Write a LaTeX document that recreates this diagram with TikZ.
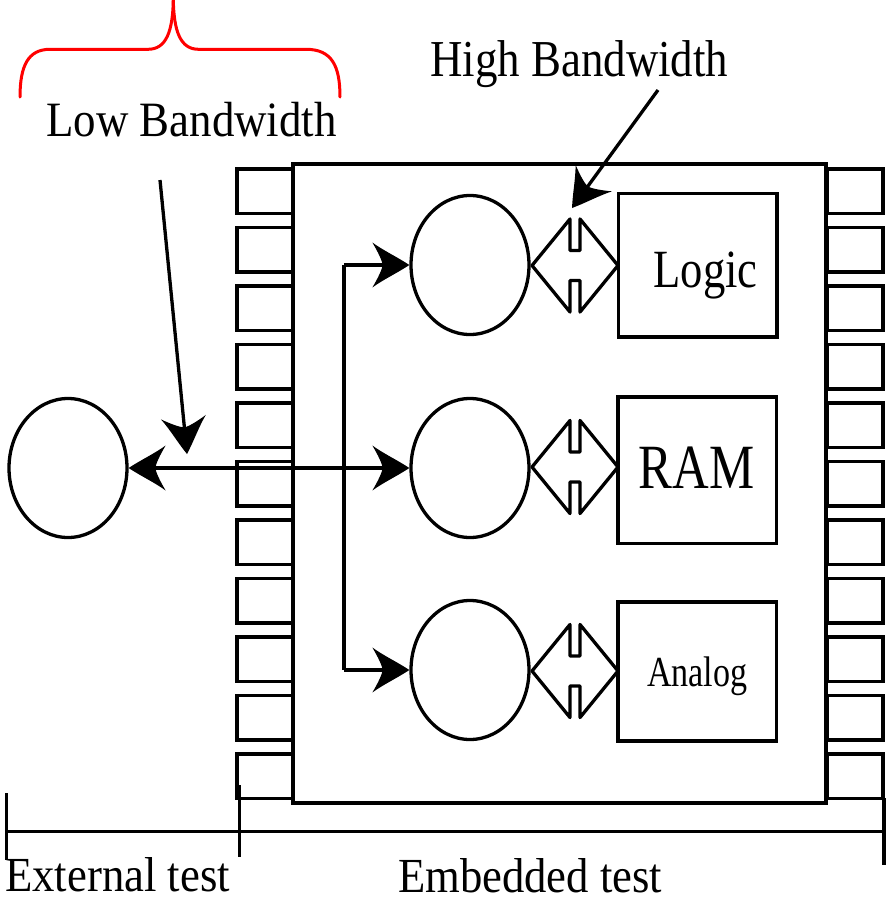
\documentclass[tikz,border=0pt]{standalone}
\usepackage{fontspec}
\setmainfont{Liberation Serif}
\usepackage{graphicx}
\usetikzlibrary{arrows.meta,shapes.geometric}
\pgfdeclarearrow{
  name = Flare,
  defaults = {length = 37pt, width = 45pt},
  parameters = {\the\pgfarrowlength,\the\pgfarrowwidth},
  setup code = {
    \pgfarrowssettipend{0pt}
    \pgfarrowssetlineend{-0.6\pgfarrowlength}
    \pgfarrowssetbackend{-\pgfarrowlength}
    \pgfarrowshullpoint{0pt}{0pt}
    \pgfarrowsupperhullpoint{-\pgfarrowlength}{0.5\pgfarrowwidth}
    \pgfarrowssavethe\pgfarrowlength
    \pgfarrowssavethe\pgfarrowwidth
  },
  drawing code = {
    \pgfpathmoveto{\pgfqpoint{0pt}{0pt}}
    \pgfpathcurveto{\pgfpoint{-0.33\pgfarrowlength}{0.18\pgfarrowwidth}}{\pgfpoint{-0.7\pgfarrowlength}{0.32\pgfarrowwidth}}{\pgfpoint{-\pgfarrowlength}{0.5\pgfarrowwidth}}
    \pgfpathcurveto{\pgfpoint{-0.84\pgfarrowlength}{0.28\pgfarrowwidth}}{\pgfpoint{-0.74\pgfarrowlength}{0.1\pgfarrowwidth}}{\pgfpoint{-0.72\pgfarrowlength}{0pt}}
    \pgfpathcurveto{\pgfpoint{-0.74\pgfarrowlength}{-0.1\pgfarrowwidth}}{\pgfpoint{-0.84\pgfarrowlength}{-0.28\pgfarrowwidth}}{\pgfpoint{-\pgfarrowlength}{-0.5\pgfarrowwidth}}
    \pgfpathcurveto{\pgfpoint{-0.7\pgfarrowlength}{-0.32\pgfarrowwidth}}{\pgfpoint{-0.33\pgfarrowlength}{-0.18\pgfarrowwidth}}{\pgfpoint{0pt}{0pt}}
    \pgfpathclose
    \pgfusepathqfill
  }
}
\newcommand{\sqz}[3]{\scalebox{#1}[1]{\fontsize{#2pt}{#2pt}\selectfont #3}}
\begin{document}
\begin{tikzpicture}[x=1pt,y=-1pt,
  lw/.style={line width=3.3pt, line join=round},
  pinbox/.style={draw, line width=3.8pt, minimum width=55.7pt, minimum height=44.5pt, inner sep=0pt},
  chipbox/.style={draw, line width=4pt, minimum width=533pt, minimum height=639pt, inner sep=0pt},
  blk/.style={draw, line width=3.6pt, minimum width=158.4pt, inner sep=0pt},
  ell/.style={draw, ellipse, line width=3.3pt, minimum width=118pt, minimum height=139pt, inner sep=0pt},
  txt/.style={anchor=base west, inner sep=0pt},
  brace/.style={draw=red, line width=3pt, line cap=round},
  dbl/.pic={\draw[lw] (-43,0) -- (-5,-46.5) -- (-5,-15) -- (5,-15) -- (5,-46.5) -- (43,0) -- (5,46.5) -- (5,15) -- (-5,15) -- (-5,46.5) -- cycle;}
]
\useasboundingbox (0,0) rectangle (892,903);

% pins
\foreach \i in {0,...,10} {
  \pgfmathsetmacro\yy{169+58.5*\i+22.25}
  \node[pinbox] (pl\i) at (265.15,\yy) {};
  \node[pinbox] (pr\i) at (855,\yy) {};
}
% chip
\node[chipbox] (chip) at (559.5,483.5) {};

% blocks
\node[blk, minimum height=143.4pt] (logic) at (697.5,265) {};
\node[blk, minimum height=146.6pt] (ram) at (697.3,470) {};
\node[blk, minimum height=139.3pt] (analog) at (697.4,671.4) {};
\node[txt] (tlogic) at (653.3,287.3) {\sqz{0.829}{53.8}{Logic}};
\node[txt] (tram) at (638.3,488.3) {\sqz{0.806}{63}{RAM}};
\node[txt] (tanalog) at (647,686.7) {\sqz{0.796}{42.8}{Analog}};

% ellipses
\node[ell] (e0) at (68,468) {};
\node[ell] (e1) at (470,265) {};
\node[ell] (e2) at (470,468) {};
\node[ell] (e3) at (470,670) {};

% double arrows
\pic at (575,265.5) {dbl};
\pic at (575,467) {dbl};
\pic at (575,671) {dbl};

% bus
\coordinate (jt) at (344,265);
\coordinate (jb) at (344,670);
\draw[lw] (jt) -- (jb);
\draw[lw,-Flare] (jt) -- (e1);
\draw[lw,-Flare] (jb) -- (e3);
\draw[lw,Flare-Flare] (e0) -- (e2);

% labels with pointer arrows
\node[txt] (tlow) at (46,136) {\sqz{0.909}{49.4}{Low Bandwidth}};
\node[txt] (thigh) at (430,76) {\sqz{0.867}{51.8}{High Bandwidth}};
\coordinate (lbs) at (160,180);
\coordinate (lbt) at (187,454);
\draw[lw,-Flare] (lbs) -- (lbt);
\coordinate (hbs) at (658,90);
\coordinate (hbt) at (572,208);
\draw[lw,-Flare] (hbs) -- (hbt);

% red brace
\draw[brace] (20,97) .. controls (20,66) and (28,49.3) .. (50,49.3) -- (148,49.3)
  .. controls (166,49.3) and (173.3,32) .. (173.3,-4);
\draw[brace] (173.3,-4) .. controls (173.3,32) and (180.6,49.3) .. (198.6,49.3) -- (306,49.3)
  .. controls (332,49.3) and (340,66) .. (340,97);

% dimension line
\coordinate (d0) at (6.7,831.7);
\coordinate (d1) at (884,831.7);
\coordinate (t1a) at (6.7,793);
\coordinate (t1b) at (6.7,860);
\coordinate (t2a) at (239.5,785);
\coordinate (t2b) at (239.5,857);
\coordinate (t3a) at (884,798);
\coordinate (t3b) at (884,865);
\draw[lw] (d0) -- (d1);
\draw[lw] (t1a) -- (t1b);
\draw[lw] (t2a) -- (t2b);
\draw[lw] (t3a) -- (t3b);
\node[txt] (text) at (5,891.7) {\sqz{0.913}{49}{External test}};
\node[txt] (temb) at (398,892) {\sqz{0.911}{49}{Embedded test}};
\end{tikzpicture}
\end{document}
